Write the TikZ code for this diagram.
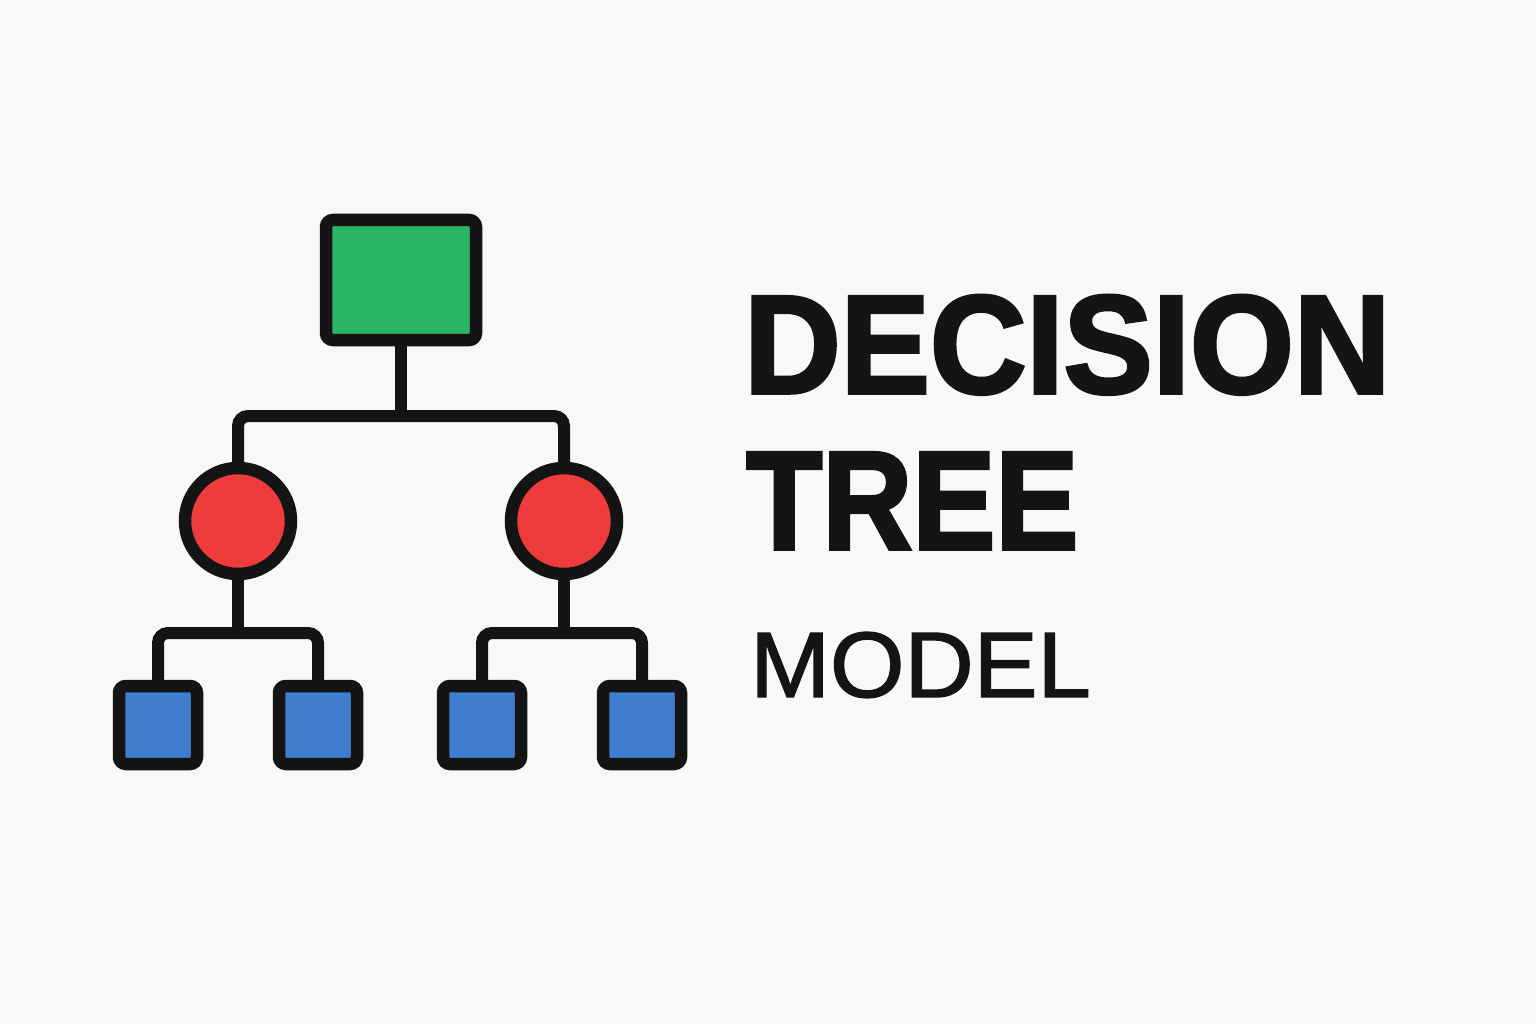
\documentclass[tikz,border=0pt]{standalone}
\usepackage{fontspec}
\setmainfont{Liberation Sans}
\newfontfamily\heavyfont{Liberation Sans Bold}[FakeBold=2.5]
\newfontfamily\mediumfont{Liberation Sans}[FakeBold=1.5]
\definecolor{bgc}{HTML}{F8F8F7}
\definecolor{ink}{HTML}{141414}
\definecolor{rootg}{HTML}{2BB463}
\definecolor{nodered}{HTML}{EE3B3B}
\definecolor{leafblue}{HTML}{3F7ECF}
\tikzset{
  box/.style={draw=ink, line width=12.5pt, rounded corners=7pt, inner sep=0pt},
  rootbox/.style={box, fill=rootg, minimum width=150pt, minimum height=120pt},
  leafbox/.style={box, fill=leafblue, minimum width=78pt, minimum height=78pt},
  decnode/.style={circle, draw=ink, line width=12.5pt, fill=nodered, inner sep=0pt, minimum size=106pt},
  conn/.style={draw=ink, line width=12pt, rounded corners=10pt},
  title/.style={anchor=base west, inner sep=0pt, text=ink}
}
\begin{document}
\begin{tikzpicture}[x=1pt,y=-1pt]
\fill[bgc] (0,0) rectangle (1536,1024);
\useasboundingbox (0,0) rectangle (1536,1024);
\coordinate (t1) at (401,416);
\coordinate (t2) at (238,633);
\coordinate (t3) at (564,633);
\node[rootbox] (root) at (401,280) {};
\node[decnode] (c1) at (238,521) {};
\node[decnode] (c2) at (564,521) {};
\node[leafbox] (l1) at (158,725) {};
\node[leafbox] (l2) at (318,725) {};
\node[leafbox] (l3) at (482,725) {};
\node[leafbox] (l4) at (642,725) {};
\draw[conn] (root.south) -- (t1);
\draw[conn] (c1.north) |- (t1) -| (c2.north);
\draw[conn] (c1.south) -- (t2);
\draw[conn] (l1.north) |- (t2) -| (l2.north);
\draw[conn] (c2.south) -- (t3);
\draw[conn] (l3.north) |- (t3) -| (l4.north);
\node[title, font=\fontsize{140}{140}\heavyfont, xscale=0.955] (t-dec) at (744,393) {DECISION};
\node[title, font=\fontsize{140}{140}\heavyfont, xscale=0.89] (t-tree) at (746,549) {TREE};
\node[title, font=\fontsize{93}{93}\mediumfont, xscale=1.03] (t-model) at (750,697) {MODEL};
\end{tikzpicture}
\end{document}
